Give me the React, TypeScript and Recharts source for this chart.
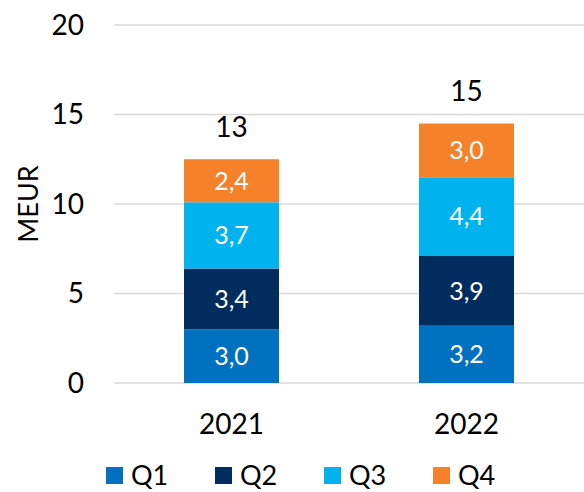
import { Bar, BarChart, CartesianGrid, LabelList, Legend, XAxis, YAxis } from 'recharts'

const years = ['2021', '2022']
const q1 = [3.0, 3.2]
const q2 = [3.4, 3.9]
const q3 = [3.7, 4.4]
const q4 = [2.4, 3.0]
const yTicks = [0, 5, 10, 15, 20]

const seriesNames = ['Q1', 'Q2', 'Q3', 'Q4']
const colors = ['#0070C0', '#002C5E', '#00B2EE', '#F5812A']

const data = years.map((year, i) => ({
  year,
  Q1: q1[i],
  Q2: q2[i],
  Q3: q3[i],
  Q4: q4[i],
  total: q1[i] + q2[i] + q3[i] + q4[i],
}))

const font = 'Lato, Calibri, sans-serif'

const fmt = (v: any) => Number(v).toFixed(1).replace('.', ',')

const TotalLabel = (props: any) => {
  const { x, y, width, index } = props
  return (
    <text x={x + width / 2} y={y - 22} textAnchor='middle' fontSize={28} fontFamily={font} fill='#000'>
      {Math.round(data[index].total)}
    </text>
  )
}

const MeurLabel = (props: any) => {
  const { viewBox } = props
  const cx = viewBox.x + 27
  const cy = viewBox.y + viewBox.height / 2
  return (
    <text x={cx} y={cy} transform={`rotate(-90 ${cx} ${cy})`} textAnchor='middle' dominantBaseline='central' fontSize={27} fontFamily={font} fill='#000'>
      MEUR
    </text>
  )
}

const LegendContent = () => (
  <div style={{ display: 'flex', paddingLeft: 106, paddingTop: 10, fontFamily: font, fontSize: 27, color: '#000', lineHeight: '30px' }}>
    {seriesNames.map((name, i) => (
      <div key={name} style={{ width: 109, display: 'flex', alignItems: 'center' }}>
        <span style={{ width: 17, height: 17, background: colors[i], marginRight: 8, display: 'inline-block' }} />
        <span>{name}</span>
      </div>
    ))}
  </div>
)

export default function App() {
  return (
    <div style={{ position: 'absolute', left: 0, top: 0 }}>
      <BarChart width={584} height={492} data={data} margin={{ top: 25, right: 0, bottom: 0, left: 0 }}>
        <CartesianGrid vertical={false} stroke='#d9d9d9' strokeWidth={1.5} />
        <XAxis
          dataKey='year'
          axisLine={false}
          tickLine={false}
          tickMargin={25}
          height={67}
          tick={{ fontSize: 28, fontFamily: font, fill: '#000' }}
        />
        <YAxis
          width={114}
          domain={[0, 20]}
          ticks={yTicks}
          axisLine={false}
          tickLine={false}
          tickMargin={24}
          tick={{ fontSize: 28, fontFamily: font, fill: '#000' }}
          label={{ content: MeurLabel }}
        />
        <Legend verticalAlign='bottom' height={42} content={LegendContent} />
        {seriesNames.map((name, i) => (
          <Bar key={name} dataKey={name} stackId='a' fill={colors[i]} barSize={95} isAnimationActive={false}>
            <LabelList dataKey={name} position='center' formatter={fmt} fill='#fff' fontSize={25} fontFamily={font} />
            {name === 'Q4' && <LabelList dataKey={name} content={TotalLabel} />}
          </Bar>
        ))}
      </BarChart>
    </div>
  )
}
